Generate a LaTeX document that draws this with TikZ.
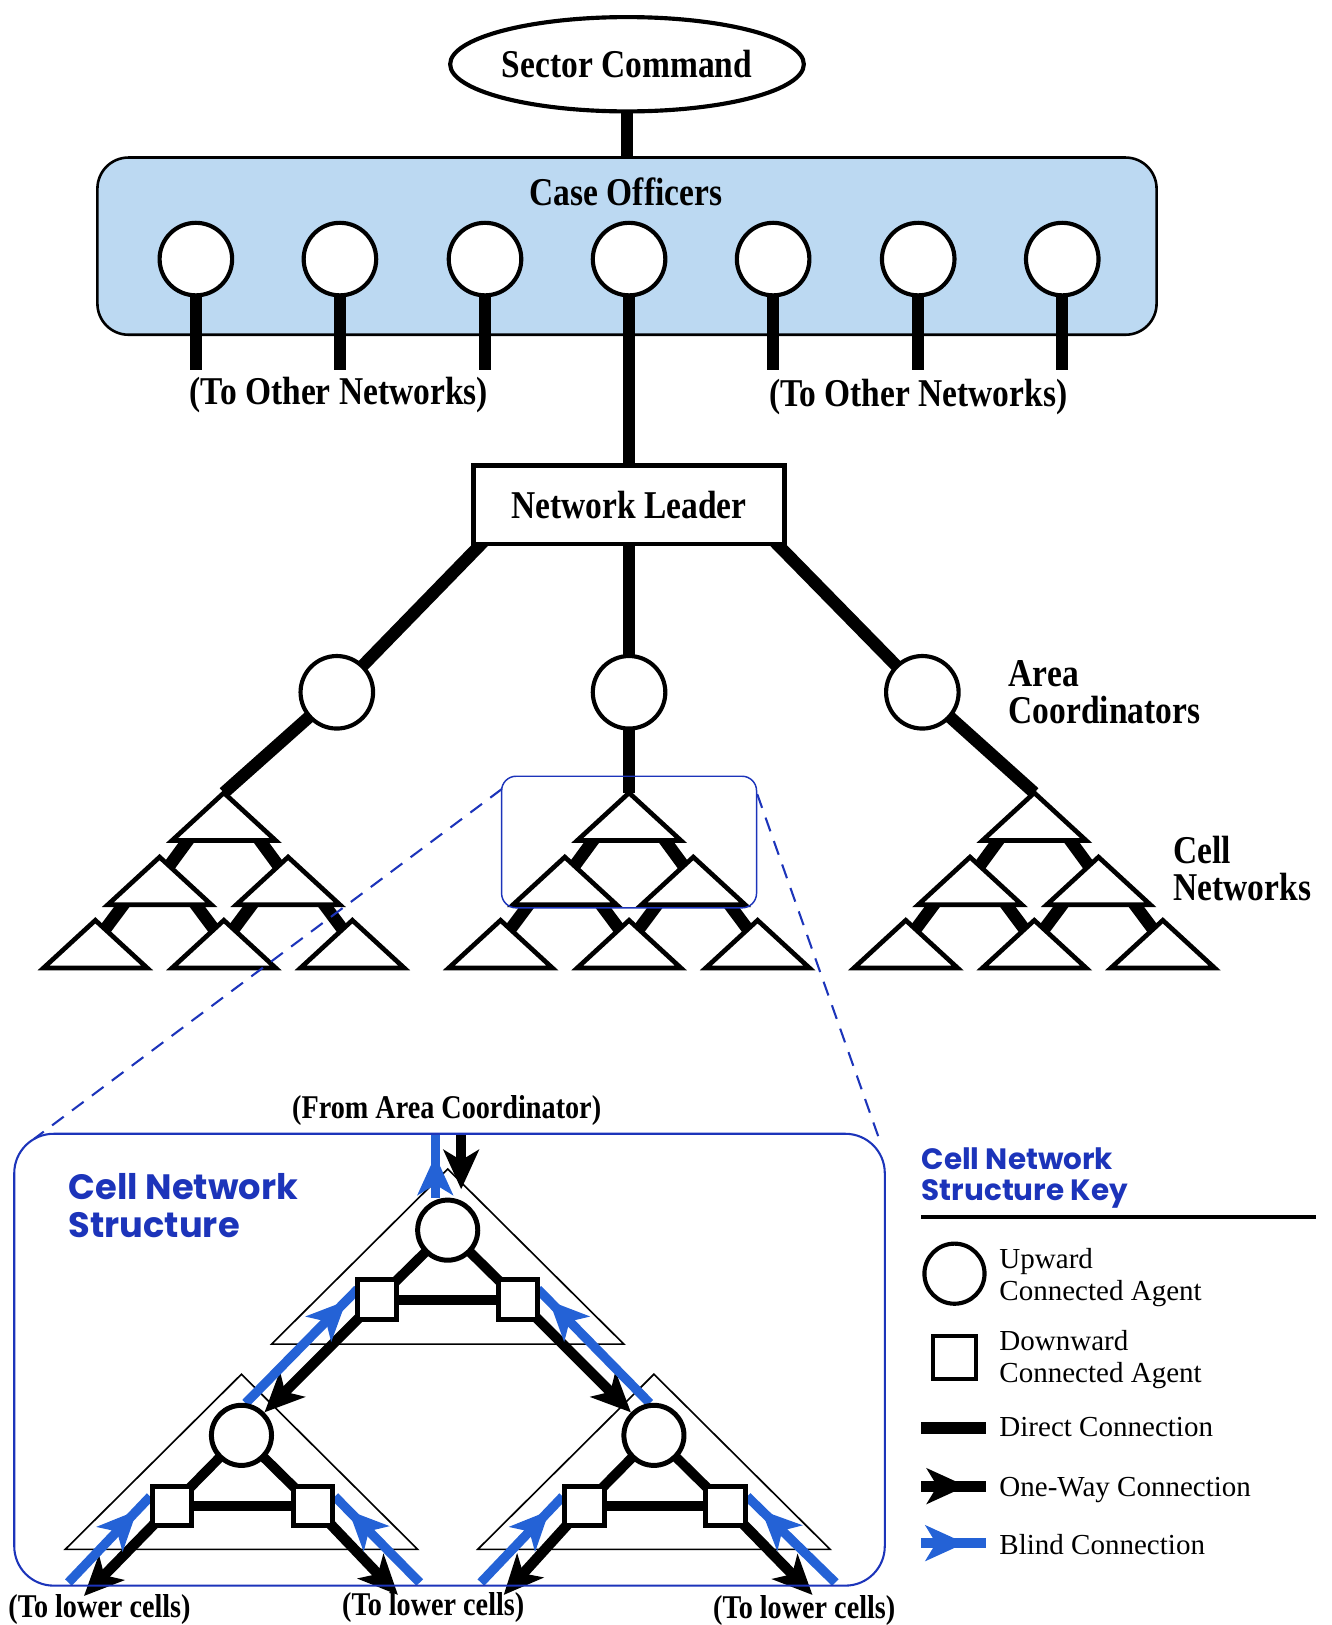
\documentclass[tikz,border=0pt]{standalone}
\usepackage{fontspec}
\usetikzlibrary{arrows.meta, calc, shapes.geometric, decorations.markings, backgrounds}

\newfontfamily\headfont{Liberation Serif}[FakeStretch=0.85]
\newfontfamily\keyfont{Poppins}
\newfontfamily\legendfont{Liberation Serif}

\definecolor{officerblue}{RGB}{188,217,242}
\definecolor{zoomblue}{RGB}{28,52,186}
\definecolor{blindblue}{RGB}{36,98,214}

% arrow head somewhere along a line
\tikzset{midhead/.style={postaction={decorate},
    decoration={markings, mark=at position #1 with {\arrow{>}}}}}

\begin{document}
\begin{tikzpicture}[
            x = 0.5pt, y = -0.5pt, % one unit per pixel of the page
            > = {Stealth[length=19pt, width=17pt, inset=5pt]}, % arrow head style
            line join = miter
        ]

        \tikzstyle{command}=[ellipse, draw = black, line width = 2pt, fill = white,
            minimum width = 168pt, minimum height = 45.5pt, inner sep = 0pt,
            font = \headfont\bfseries\fontsize{19}{22}\selectfont]
        \tikzstyle{officebox}=[rectangle, rounded corners = 15pt, draw = black, line width = 1.25pt,
            fill = officerblue, minimum width = 511pt, minimum height = 85.5pt]
        \tikzstyle{agent}=[circle, draw = black, line width = 2pt, fill = white,
            minimum size = 35pt, inner sep = 0pt]
        \tikzstyle{leader}=[rectangle, draw = black, line width = 2.25pt, fill = white,
            minimum width = 150pt, minimum height = 38pt,
            font = \headfont\bfseries\fontsize{19}{22}\selectfont]
        \tikzstyle{headtext}=[font = \headfont\bfseries\fontsize{19}{18}\selectfont, inner sep = 0pt]
        \tikzstyle{smalltext}=[font = \headfont\bfseries\fontsize{16}{18}\selectfont, inner sep = 0pt]
        \tikzstyle{stem}=[line width = 6pt]
        \tikzstyle{trunk}=[line width = 6pt]
        \tikzstyle{link}=[line width = 6pt]
        \tikzstyle{cellnet}=[draw = black, line width = 2.25pt, fill = white]
        \tikzstyle{zoombox}=[rectangle, rounded corners = 7pt, draw = zoomblue, line width = 0.7pt,
            minimum width = 123pt, minimum height = 63.5pt]
        \tikzstyle{zoomline}=[draw = zoomblue, line width = 1pt, dash pattern = on 7pt off 5pt]
        \tikzstyle{cellframe}=[rectangle, rounded corners = 19pt, draw = zoomblue, line width = 1pt,
            minimum width = 420pt, minimum height = 218pt]
        \tikzstyle{keytitle}=[text = zoomblue, align = left, inner sep = 0pt,
            font = \keyfont\bfseries\fontsize{17}{18.5}\selectfont]
        \tikzstyle{upagent}=[circle, draw = black, line width = 2.4pt, fill = white,
            minimum size = 29pt, inner sep = 0pt]
        \tikzstyle{downagent}=[rectangle, draw = black, line width = 2.4pt, fill = white,
            minimum size = 19pt, inner sep = 0pt]
        \tikzstyle{cellzone}=[draw = black, line width = 0.8pt]
        \tikzstyle{direct}=[line width = 4.75pt]
        \tikzstyle{oneway}=[->, line width = 5pt]
        \tikzstyle{blind}=[draw = blindblue, line width = 4.5pt]
        \tikzstyle{keytext}=[align = left, inner sep = 0pt,
            font = \legendfont\fontsize{14}{15.5}\selectfont]

        \useasboundingbox (0,0) rectangle (1285,1568);

        % sector command and case officers
        \node (co) [officebox] at (605,237.5) {};
        \node (cotitle) [headtext] at (604,185) {Case Officers};
        \node (sector) [command] at (605,62) {Sector Command};
        \draw [stem] (sector) -- (co);

        \node (o1) [agent] at (189,250) {};
        \node (o2) [agent] at (328,250) {};
        \node (o3) [agent] at (468,250) {};
        \node (o4) [agent] at (607,250) {};
        \node (o5) [agent] at (746,250) {};
        \node (o6) [agent] at (886,250) {};
        \node (o7) [agent] at (1025,250) {};
        \coordinate (o1end) at (189,357);
        \coordinate (o2end) at (328,357);
        \coordinate (o3end) at (468,357);
        \coordinate (o5end) at (746,357);
        \coordinate (o6end) at (886,357);
        \coordinate (o7end) at (1025,357);
        \draw [stem] (o1) -- (o1end);
        \draw [stem] (o2) -- (o2end);
        \draw [stem] (o3) -- (o3end);
        \draw [stem] (o5) -- (o5end);
        \draw [stem] (o6) -- (o6end);
        \draw [stem] (o7) -- (o7end);
        \node (otherL) [headtext] at (327,381) {(To Other Networks)};
        \node (otherR) [headtext] at (886,383) {(To Other Networks)};

        % network leader and area coordinators
        \node (nl) [leader] at (607,487) {Network Leader};
        \draw [stem] (o4) -- (nl);
        \node (aL) [agent] at (325,668) {};
        \node (aM) [agent] at (607,668) {};
        \node (aR) [agent] at (890,668) {};
        \node (arealabel) [headtext, align = left, anchor = north west] at (973,637) {Area\\Coordinators};
        \node (celllabel) [headtext, align = left, anchor = north west] at (1132,806) {Cell\\Networks};

        % cell networks
        \coordinate (Lt) at (216,765);
        \coordinate (Ll) at (154,827);
        \coordinate (Lr) at (278,827);
        \coordinate (La) at (92,888);
        \coordinate (Lb) at (216,888);
        \coordinate (Lc) at (340,888);
        \coordinate (Mt) at (607,765);
        \coordinate (Ml) at (545,827);
        \coordinate (Mr) at (669,827);
        \coordinate (Ma) at (483,888);
        \coordinate (Mb) at (607,888);
        \coordinate (Mc) at (731,888);
        \coordinate (Rt) at (998,765);
        \coordinate (Rl) at (936,827);
        \coordinate (Rr) at (1060,827);
        \coordinate (Ra) at (874,888);
        \coordinate (Rb) at (998,888);
        \coordinate (Rc) at (1122,888);

        \begin{pgfonlayer}{background}
            \draw [trunk] ($(nl.south west)+(17,-10)$) -- (aL.center) -- (Lt);
            \draw [trunk] (nl.center) -- (aM.center) -- (Mt);
            \draw [trunk] ($(nl.south east)+(-17,-10)$) -- (aR.center) -- (Rt);
        \end{pgfonlayer}

        \draw [link] ($(Lt)+(-23,30)$) -- ($(Ll)+(-5,28)$);
        \draw [link] ($(Lt)+(23,30)$) -- ($(Lr)+(5,28)$);
        \draw [link] ($(Ll)+(-23,30)$) -- ($(La)+(-5,28)$);
        \draw [link] ($(Ll)+(23,30)$) -- ($(Lb)+(5,28)$);
        \draw [link] ($(Lr)+(-23,30)$) -- ($(Lb)+(-5,28)$);
        \draw [link] ($(Lr)+(23,30)$) -- ($(Lc)+(5,28)$);
        \draw [link] ($(Mt)+(-23,30)$) -- ($(Ml)+(-5,28)$);
        \draw [link] ($(Mt)+(23,30)$) -- ($(Mr)+(5,28)$);
        \draw [link] ($(Ml)+(-23,30)$) -- ($(Ma)+(-5,28)$);
        \draw [link] ($(Ml)+(23,30)$) -- ($(Mb)+(5,28)$);
        \draw [link] ($(Mr)+(-23,30)$) -- ($(Mb)+(-5,28)$);
        \draw [link] ($(Mr)+(23,30)$) -- ($(Mc)+(5,28)$);
        \draw [link] ($(Rt)+(-23,30)$) -- ($(Rl)+(-5,28)$);
        \draw [link] ($(Rt)+(23,30)$) -- ($(Rr)+(5,28)$);
        \draw [link] ($(Rl)+(-23,30)$) -- ($(Ra)+(-5,28)$);
        \draw [link] ($(Rl)+(23,30)$) -- ($(Rb)+(5,28)$);
        \draw [link] ($(Rr)+(-23,30)$) -- ($(Rb)+(-5,28)$);
        \draw [link] ($(Rr)+(23,30)$) -- ($(Rc)+(5,28)$);

        \draw [cellnet] (Lt) -- ++(-50,46) -- ++(100,0) -- cycle;
        \draw [cellnet] (Ll) -- ++(-50,46) -- ++(100,0) -- cycle;
        \draw [cellnet] (Lr) -- ++(-50,46) -- ++(100,0) -- cycle;
        \draw [cellnet] (La) -- ++(-50,46) -- ++(100,0) -- cycle;
        \draw [cellnet] (Lb) -- ++(-50,46) -- ++(100,0) -- cycle;
        \draw [cellnet] (Lc) -- ++(-50,46) -- ++(100,0) -- cycle;
        \draw [cellnet] (Mt) -- ++(-50,46) -- ++(100,0) -- cycle;
        \draw [cellnet] (Ml) -- ++(-50,46) -- ++(100,0) -- cycle;
        \draw [cellnet] (Mr) -- ++(-50,46) -- ++(100,0) -- cycle;
        \draw [cellnet] (Ma) -- ++(-50,46) -- ++(100,0) -- cycle;
        \draw [cellnet] (Mb) -- ++(-50,46) -- ++(100,0) -- cycle;
        \draw [cellnet] (Mc) -- ++(-50,46) -- ++(100,0) -- cycle;
        \draw [cellnet] (Rt) -- ++(-50,46) -- ++(100,0) -- cycle;
        \draw [cellnet] (Rl) -- ++(-50,46) -- ++(100,0) -- cycle;
        \draw [cellnet] (Rr) -- ++(-50,46) -- ++(100,0) -- cycle;
        \draw [cellnet] (Ra) -- ++(-50,46) -- ++(100,0) -- cycle;
        \draw [cellnet] (Rb) -- ++(-50,46) -- ++(100,0) -- cycle;
        \draw [cellnet] (Rc) -- ++(-50,46) -- ++(100,0) -- cycle;

        % enlarged cell network
        \node (zoom) [zoombox] at (607,812.5) {};
        \node (cellbox) [cellframe] at (433.75,1312) {};
        \draw [zoomline] ($(zoom.north west)+(1,13)$) -- ($(cellbox.north west)+(20,6)$);
        \draw [zoomline] ($(zoom.north east)+(0,18)$) -- ($(cellbox.north east)+(-5,10)$);

        \node (celltitle) [keytitle, anchor = north west] at (66,1132) {Cell Network\\Structure};
        \node (fromarea) [smalltext] at (431,1072) {(From Area Coordinator)};

        \node (cT) [upagent] at (432,1187) {};
        \node (cL) [upagent] at (233,1385) {};
        \node (cR) [upagent] at (631,1385) {};
        \node (sTL) [downagent] at (364,1254) {};
        \node (sTR) [downagent] at (500,1254) {};
        \node (sLL) [downagent] at (166,1453) {};
        \node (sLR) [downagent] at (302,1453) {};
        \node (sRL) [downagent] at (564,1453) {};
        \node (sRR) [downagent] at (700,1453) {};

        \coordinate (fromTop) at (445,1094);
        \coordinate (toTop) at (420,1094);
        \coordinate (downLL) at (81,1540);
        \coordinate (downLR) at (384,1539);
        \coordinate (downRL) at (486,1539);
        \coordinate (downRR) at (784,1539);
        \coordinate (upLL) at (66,1527);
        \coordinate (upLR) at (405,1527);
        \coordinate (upRL) at (464,1527);
        \coordinate (upRR) at (806,1527);

        \begin{pgfonlayer}{background}
            \draw [cellzone] ($(cT)+(0,-59)$) -- ++(-170,169) -- ++(340,0) -- cycle;
            \draw [cellzone] ($(cL)+(0,-59)$) -- ++(-170,169) -- ++(340,0) -- cycle;
            \draw [cellzone] ($(cR)+(0,-59)$) -- ++(-170,169) -- ++(340,0) -- cycle;

            \draw [direct] (cT.center) -- (sTL.center);
            \draw [direct] (cT.center) -- (sTR.center);
            \draw [direct] (sTL.center) -- (sTR.center);
            \draw [direct] (cL.center) -- (sLL.center);
            \draw [direct] (cL.center) -- (sLR.center);
            \draw [direct] (sLL.center) -- (sLR.center);
            \draw [direct] (cR.center) -- (sRL.center);
            \draw [direct] (cR.center) -- (sRR.center);
            \draw [direct] (sRL.center) -- (sRR.center);

            \draw [oneway, shorten > = 4pt] (fromTop) -- (fromTop |- cT.north);
            \draw [oneway] (sTL.center) -- (cL);
            \draw [oneway] (sTR.center) -- (cR);
            \draw [oneway] (sLL.center) -- (downLL);
            \draw [oneway] (sLR.center) -- (downLR);
            \draw [oneway] (sRL.center) -- (downRL);
            \draw [oneway] (sRR.center) -- (downRR);

            \draw [blind, midhead = 0.66] (toTop |- cT.north) -- (toTop);
            \draw [blind, midhead = 0.9] ($(cL)+(4,-31)$) -- ($(sTL)+(-19,-10)$);
            \draw [blind, midhead = 0.9] ($(cR)+(-4,-31)$) -- ($(sTR)+(19,-10)$);
            \draw [blind, midhead = 0.84] (upLL) -- ($(sLL)+(-21,-9)$);
            \draw [blind, midhead = 0.84] (upLR) -- ($(sLR)+(21,-9)$);
            \draw [blind, midhead = 0.84] (upRL) -- ($(sRL)+(-21,-9)$);
            \draw [blind, midhead = 0.84] (upRR) -- ($(sRR)+(21,-9)$);
        \end{pgfonlayer}

        \node (lowerL) [smalltext] at (96,1553) {(To lower cells)};
        \node (lowerM) [smalltext] at (418,1551) {(To lower cells)};
        \node (lowerR) [smalltext] at (776,1554) {(To lower cells)};

        % key
        \node (keytitle) [keytitle, anchor = north west,
            font = \keyfont\bfseries\fontsize{14.2}{15.2}\selectfont] at (889,1107) {Cell Network\\Structure Key};
        \draw [line width = 2pt] (889,1174) -- (1270,1174);

        \node (keyUp) [upagent, line width = 2pt] at (921,1229) {};
        \node (keyUpText) [keytext, anchor = north west] at (964,1204) {Upward\\Connected Agent};
        \node (keyDown) [downagent, line width = 2pt, minimum size = 20.5pt] at (921,1310) {};
        \node (keyDownText) [keytext, anchor = north west] at (964,1283) {Downward\\Connected Agent};
        \node (keyDirect) [keytext, anchor = base west] at (964,1386) {Direct Connection};
        \node (keyOneWay) [keytext, anchor = base west] at (964,1444) {One-Way Connection};
        \node (keyBlind) [keytext, anchor = base west] at (964,1500) {Blind Connection};

        \draw [direct, line width = 5.5pt] ($(keyDirect.base west)+(-75,-8)$) -- ($(keyDirect.base west)+(-13,-8)$);
        \draw [line width = 5.3pt, midhead = 0.7] ($(keyOneWay.base west)+(-75,-10)$) -- ($(keyOneWay.base west)+(-13,-10)$);
        \draw [blind, line width = 5pt, midhead = 0.68] ($(keyBlind.base west)+(-75,-11)$) -- ($(keyBlind.base west)+(-13,-11)$);

    \end{tikzpicture}
\end{document}
